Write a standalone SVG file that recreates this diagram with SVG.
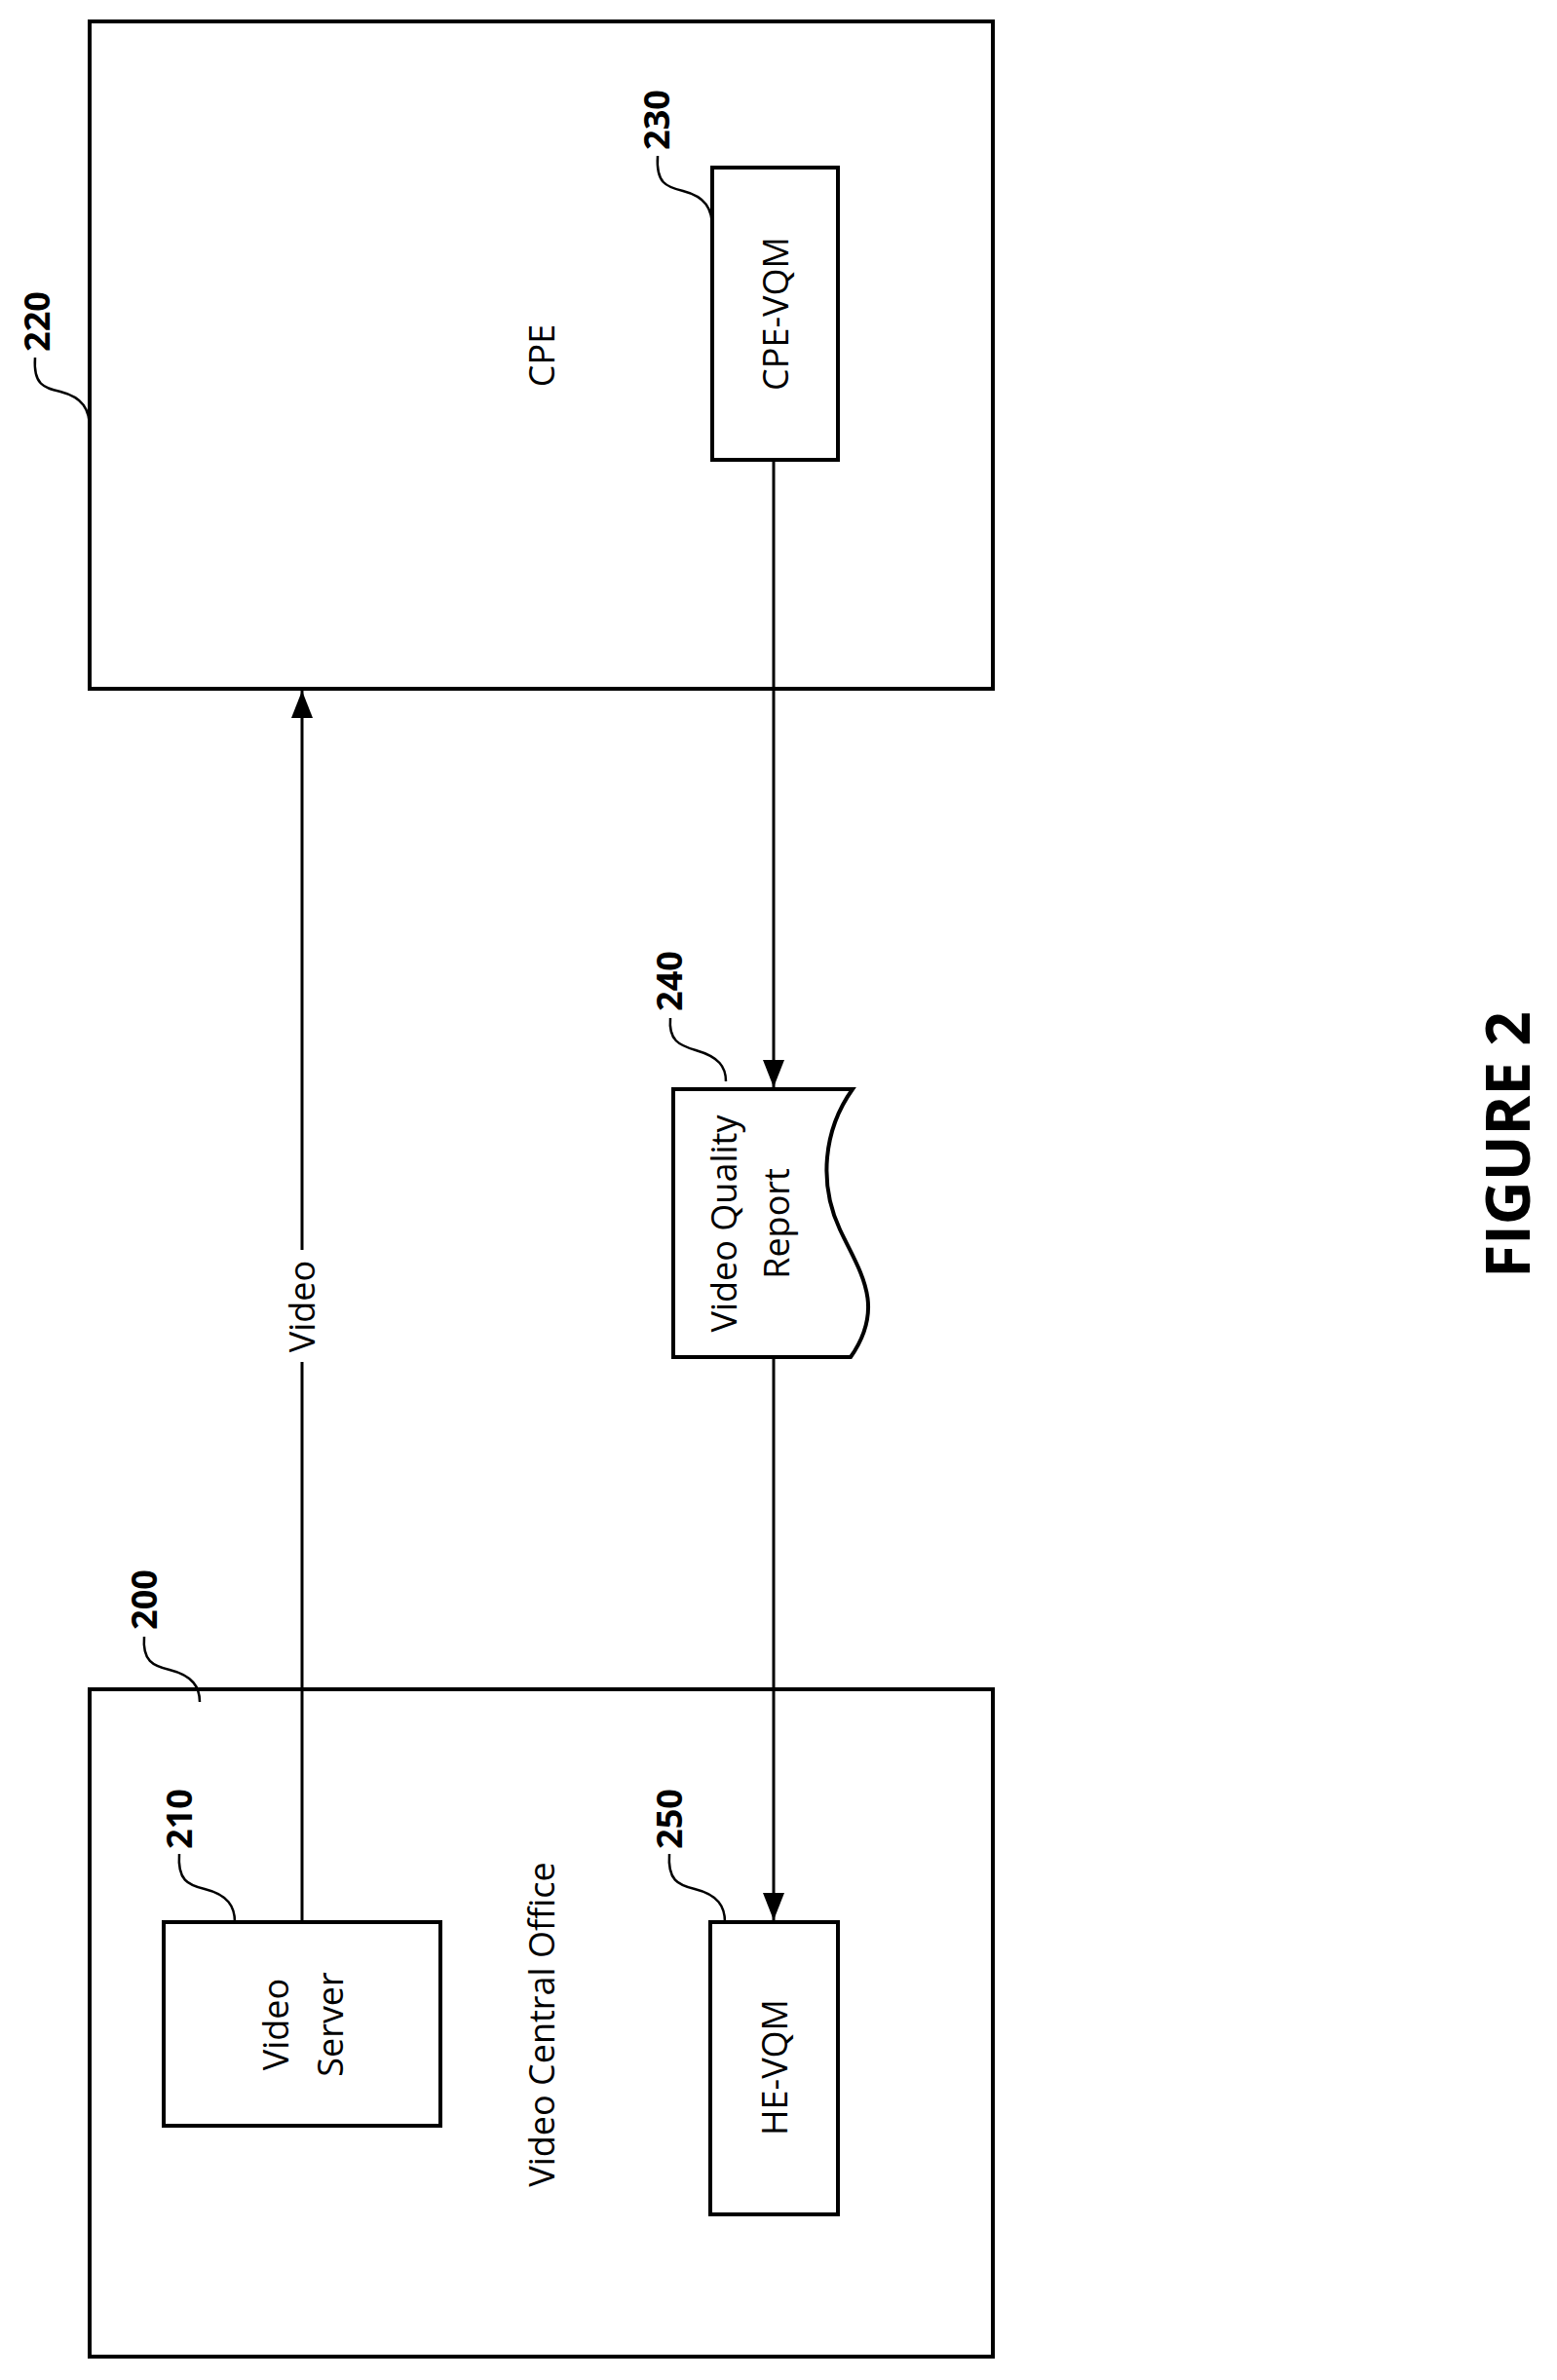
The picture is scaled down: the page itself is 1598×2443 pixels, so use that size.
<svg xmlns="http://www.w3.org/2000/svg" width="1598" height="2443" viewBox="0 0 1598 2443">
<style>
.box{fill:none;stroke:#000;stroke-width:4}
.ln{fill:none;stroke:#000;stroke-width:3}
.ld{fill:none;stroke:#000;stroke-width:2.5}
.t{font-family:"Open Sans","Liberation Sans",sans-serif;font-size:36px;text-anchor:middle}
.n{font-family:"Open Sans","Liberation Sans",sans-serif;font-size:36px;font-weight:bold;text-anchor:middle}
.f{font-family:"Open Sans","Liberation Sans",sans-serif;font-size:62px;font-weight:bold;text-anchor:middle}
</style>
<defs>
<marker id="ah" markerWidth="28" markerHeight="22" refX="28" refY="11" orient="auto" markerUnits="userSpaceOnUse" viewBox="0 0 28 22"><path d="M0,0 L28,11 L0,22 Z" fill="#000"/></marker>
</defs>
<rect width="1598" height="2443" fill="#fff"/>
<g id="n220">
<rect class="box" x="92" y="22" width="927" height="685"/>
<text class="t" transform="translate(556,365) rotate(-90)" dy="0.35em">CPE</text>
<text class="n" transform="translate(38,330) rotate(-90)" dy="0.35em">220</text>
<path class="ld" d="M36,367 C34,395 45,398 62,402 C85,408 92,420 92,440"/>
</g>
<g id="n230">
<rect class="box" x="731" y="172" width="129" height="300"/>
<text class="t" transform="translate(796,322) rotate(-90)" dy="0.35em">CPE-VQM</text>
<text class="n" transform="translate(674,123) rotate(-90)" dy="0.35em">230</text>
<path class="ld" d="M675,160 C673,188 684,192 701,196 C724,202 731,214 731,234"/>
</g>
<g id="n240">
<path class="box" d="M691,1118 H875 C845,1160 840,1215 862,1262 C882,1305 910,1340 873,1393 H691 Z"/>
<text class="t" transform="translate(743,1256) rotate(-90)" dy="0.35em">Video Quality</text>
<text class="t" transform="translate(797,1256) rotate(-90)" dy="0.35em">Report</text>
<text class="n" transform="translate(687,1007) rotate(-90)" dy="0.35em">240</text>
<path class="ld" d="M688,1045 C686,1068 697,1073 714,1078 C738,1085 745,1095 745,1110"/>
</g>
<g id="n200">
<rect class="box" x="92" y="1734" width="927" height="685"/>
<text class="t" transform="translate(556,2078) rotate(-90)" dy="0.35em">Video Central Office</text>
<text class="n" transform="translate(148,1642) rotate(-90)" dy="0.35em">200</text>
<path class="ld" d="M148,1680 C146,1705 157,1710 174,1714 C198,1720 205,1732 205,1747"/>
</g>
<g id="n210">
<rect class="box" x="168" y="1973" width="284" height="209"/>
<text class="t" transform="translate(283,2078) rotate(-90)" dy="0.35em">Video</text>
<text class="t" transform="translate(339,2078) rotate(-90)" dy="0.35em">Server</text>
<text class="n" transform="translate(184,1867) rotate(-90)" dy="0.35em">210</text>
<path class="ld" d="M184,1903 C182,1930 193,1935 210,1939 C234,1945 241,1957 241,1973"/>
</g>
<g id="n250">
<rect class="box" x="729" y="1973" width="131" height="300"/>
<text class="t" transform="translate(795,2122) rotate(-90)" dy="0.35em">HE-VQM</text>
<text class="n" transform="translate(687,1867) rotate(-90)" dy="0.35em">250</text>
<path class="ld" d="M687,1903 C685,1930 696,1935 713,1939 C737,1945 744,1957 744,1973"/>
</g>
<g id="connectors">
<path class="ln" d="M310,1973 V1398"/>
<path class="ln" d="M310,1283 V709" marker-end="url(#ah)"/>
<text class="t" transform="translate(310,1341) rotate(-90)" dy="0.35em">Video</text>
<path class="ln" d="M794,472 V1116" marker-end="url(#ah)"/>
<path class="ln" d="M794,1393 V1971" marker-end="url(#ah)"/>
</g>
<text class="f" transform="translate(1548,1175) rotate(-90)" dy="0.35em">FIGURE 2</text>
</svg>
